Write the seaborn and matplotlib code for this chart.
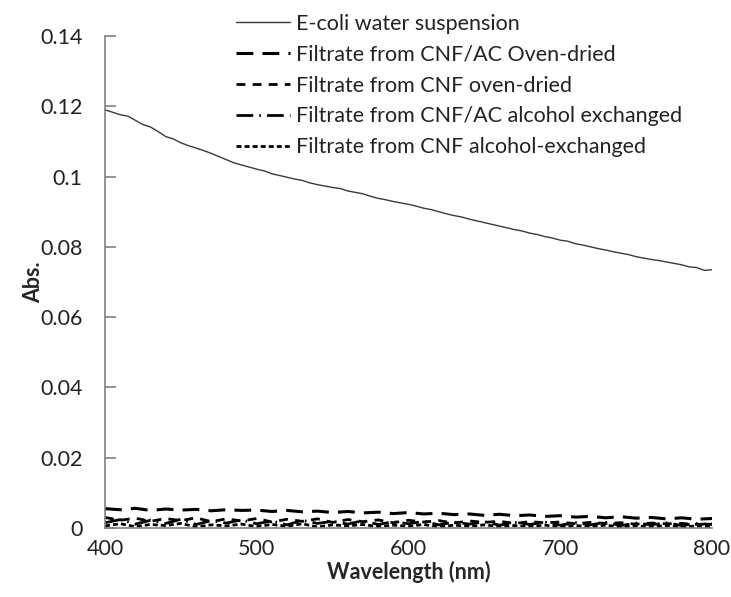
import numpy as np
import pandas as pd
import matplotlib
matplotlib.use("Agg")
import matplotlib.pyplot as plt
import seaborn as sns

# ---------------- data ----------------
wl_ecoli = list(range(400, 801, 5))
ecoli = [0.1190, 0.1183, 0.1176, 0.1172, 0.1160, 0.1148, 0.1141, 0.1128, 0.1114, 0.1107,
         0.1096, 0.1088, 0.1081, 0.1074, 0.1066, 0.1057, 0.1048, 0.1039, 0.1033, 0.1027,
         0.1021, 0.1016, 0.1008, 0.1003, 0.0998, 0.0993, 0.0989, 0.0982, 0.0977, 0.0973,
         0.0969, 0.0966, 0.0959, 0.0955, 0.0951, 0.0944, 0.0938, 0.0934, 0.0929, 0.0925,
         0.0921, 0.0916, 0.0910, 0.0906, 0.0900, 0.0894, 0.0889, 0.0885, 0.0879, 0.0874,
         0.0869, 0.0864, 0.0859, 0.0854, 0.0849, 0.0845, 0.0839, 0.0835, 0.0829, 0.0825,
         0.0819, 0.0816, 0.0809, 0.0805, 0.0800, 0.0795, 0.0791, 0.0786, 0.0782, 0.0778,
         0.0772, 0.0768, 0.0764, 0.0761, 0.0757, 0.0753, 0.0749, 0.0743, 0.0741, 0.0733,
         0.0735]

wl_low = list(range(400, 801, 10))
cnfac_oven = [0.0055, 0.0052, 0.0056, 0.0050, 0.0054, 0.0051, 0.0053, 0.0049, 0.0052, 0.0050,
              0.0051, 0.0047, 0.0050, 0.0046, 0.0048, 0.0044, 0.0047, 0.0043, 0.0045, 0.0041,
              0.0044, 0.0040, 0.0042, 0.0038, 0.0040, 0.0036, 0.0039, 0.0035, 0.0037, 0.0033,
              0.0035, 0.0031, 0.0033, 0.0029, 0.0032, 0.0028, 0.0030, 0.0026, 0.0029, 0.0025,
              0.0027]
cnf_oven = [0.0030, 0.0022, 0.0028, 0.0019, 0.0027, 0.0021, 0.0029, 0.0018, 0.0026, 0.0020,
            0.0027, 0.0017, 0.0025, 0.0019, 0.0026, 0.0016, 0.0024, 0.0018, 0.0023, 0.0015,
            0.0022, 0.0017, 0.0021, 0.0014, 0.0020, 0.0016, 0.0019, 0.0013, 0.0018, 0.0015,
            0.0017, 0.0012, 0.0016, 0.0013, 0.0015, 0.0011, 0.0014, 0.0012, 0.0013, 0.0010,
            0.0012]
cnfac_alc = [0.0015, 0.0024, 0.0011, 0.0022, 0.0013, 0.0025, 0.0010, 0.0021, 0.0014, 0.0023,
             0.0012, 0.0020, 0.0009, 0.0022, 0.0013, 0.0019, 0.0011, 0.0021, 0.0010, 0.0018,
             0.0012, 0.0019, 0.0009, 0.0017, 0.0011, 0.0018, 0.0008, 0.0016, 0.0010, 0.0017,
             0.0008, 0.0015, 0.0009, 0.0016, 0.0007, 0.0014, 0.0009, 0.0015, 0.0007, 0.0013,
             0.0010]
cnf_alc = [0.0006, 0.0012, 0.0004, 0.0010, 0.0007, 0.0013, 0.0003, 0.0009, 0.0006, 0.0011,
           0.0004, 0.0010, 0.0005, 0.0012, 0.0003, 0.0009, 0.0006, 0.0010, 0.0004, 0.0008,
           0.0005, 0.0010, 0.0003, 0.0008, 0.0005, 0.0009, 0.0004, 0.0007, 0.0005, 0.0008,
           0.0003, 0.0007, 0.0004, 0.0008, 0.0003, 0.0006, 0.0004, 0.0007, 0.0003, 0.0006,
           0.0004]

labels = ["E-coli water suspension",
          "Filtrate from CNF/AC Oven-dried",
          "Filtrate from CNF oven-dried",
          "Filtrate from CNF/AC alcohol exchanged",
          "Filtrate from CNF alcohol-exchanged"]
y_ticks = [0, 0.02, 0.04, 0.06, 0.08, 0.1, 0.12, 0.14]
y_ticklabels = ["0", "0.02", "0.04", "0.06", "0.08", "0.1", "0.12", "0.14"]
x_ticks = [400, 500, 600, 700, 800]

# ---------------- style ----------------
sns.set_theme(style="white")
plt.rcParams['font.family'] = ['Lato', 'DejaVu Sans']

fig = plt.figure(figsize=(7.31, 5.97), dpi=100)
ax = fig.add_axes([105/731, 1 - 528/597, (712 - 105)/731, (528 - 36)/597])

series = [
    (wl_ecoli, ecoli, dict(color="#3a3a3a", lw=1.0, ls="-")),
    (wl_low, cnfac_oven, dict(color="black", lw=2.2, dashes=(5.5, 3))),
    (wl_low, cnf_oven, dict(color="black", lw=2.0, dashes=(3.2, 2.6))),
    (wl_low, cnfac_alc, dict(color="black", lw=2.0, dashes=(6, 2.2, 0.6, 2.2))),
    (wl_low, cnf_alc, dict(color="black", lw=2.0, dashes=(1.8, 1.1))),
]
for (x, y, kw), lab in zip(series, labels):
    sns.lineplot(x=x, y=y, ax=ax, label=lab, **kw)

ax.set_xlim(400, 800)
ax.set_ylim(0, 0.14)
ax.set_xticks(x_ticks)
ax.set_xticklabels([str(v) for v in x_ticks])
ax.set_yticks(y_ticks)
ax.set_yticklabels(y_ticklabels)

for s in ["top", "right"]:
    ax.spines[s].set_visible(False)
for s in ["left", "bottom"]:
    ax.spines[s].set_color("#808080")
    ax.spines[s].set_linewidth(1.2)

ax.tick_params(axis="y", direction="in", length=8, width=1.2, color="#808080",
               labelsize=15.5, pad=16, labelcolor="#222222", left=True)
ax.tick_params(axis="x", length=0, labelsize=15.5, pad=8, labelcolor="#222222")

ax.set_xlabel("Wavelength (nm)", fontsize=15.5, fontweight="bold", labelpad=1)
ax.set_ylabel("Abs.", fontsize=15.5, fontweight="bold", labelpad=-3)

leg = ax.legend(loc="upper left", bbox_to_anchor=(236/731, 1 - 14/597),
                bbox_transform=fig.transFigure, frameon=False, fontsize=15.5,
                handlelength=2.5, handletextpad=0.3, labelspacing=0.5,
                borderpad=0, borderaxespad=0)
for t in leg.get_texts():
    t.set_color("#222222")

fig.savefig("out.png", dpi=100)
